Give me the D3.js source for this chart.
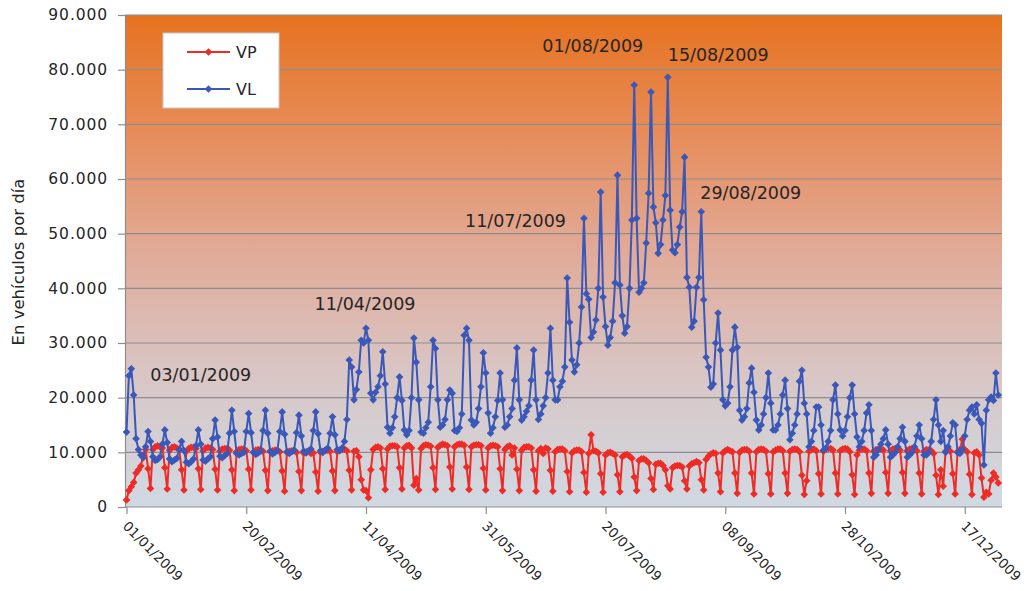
<!DOCTYPE html>
<html>
<head>
<meta charset="utf-8">
<script src="https://cdnjs.cloudflare.com/ajax/libs/d3/7.8.5/d3.min.js"></script>
<style>
  body { margin: 0; background: #fff; }
  svg text { font-family: "DejaVu Sans", sans-serif; fill: #262626; }
</style>
</head>
<body>
<svg id="canvas" width="1028" height="591"></svg>
<script>
// daily values for 2009, one row per week (Thu .. Wed), starting Thu 01/01/2009
const firstDay = new Date(2009, 0, 1);
const seriesNames = ["VP", "VL"];

const vp = [
  1300, 3000, 3700, 4500, 6200, 6800, 7500,
  9500, 10500, 7000, 3400, 10500, 11000, 11200,
  11000, 10800, 7200, 3300, 10400, 10900, 11000,
  10800, 10600, 6800, 3100, 10200, 10700, 10900,
  10900, 10700, 7000, 3200, 10300, 10800, 10900,
  10800, 10500, 6900, 3100, 10200, 10600, 10700,
  10700, 10400, 6800, 3000, 10100, 10500, 10600,
  10600, 10300, 6900, 3100, 10000, 10400, 10500,
  10500, 10200, 6700, 3000, 10100, 10300, 10400,
  10400, 10100, 6600, 2900, 10000, 10200, 10300,
  10300, 10000, 6500, 3000, 9900, 10100, 10200,
  9800, 9900, 6400, 2900, 10000, 10200, 10300,
  10400, 10200, 6600, 3000, 10100, 10400, 10500,
  10600, 10300, 6700, 3100, 10200, 10300, 9200,
  5000, 3100, 3000, 1700, 6800, 10500, 10900,
  11000, 10800, 7000, 3200, 10600, 11100, 11200,
  11200, 11000, 7200, 3300, 10800, 11200, 11300,
  10800, 4000, 5200, 3100, 10700, 11200, 11400,
  11300, 11100, 7200, 3200, 10900, 11300, 11500,
  11400, 11200, 7300, 3300, 11000, 11400, 11500,
  11500, 11300, 7300, 3200, 11000, 11300, 11400,
  11400, 11200, 7100, 3100, 10800, 11200, 11300,
  11200, 11000, 7000, 3000, 10500, 11000, 11200,
  9500, 10800, 6900, 3000, 10400, 10900, 11000,
  11000, 10800, 6800, 2900, 10300, 10700, 9800,
  10800, 10600, 6700, 2900, 10100, 10500, 10600,
  10600, 10300, 6500, 2800, 9900, 10300, 10400,
  10400, 10100, 6300, 2700, 9800, 13200, 10300,
  10200, 9900, 6100, 2700, 9500, 9900, 10000,
  9800, 9500, 5900, 2800, 9200, 9500, 9600,
  9300, 8900, 5500, 3000, 8500, 8800, 8800,
  8500, 8100, 5200, 3200, 7800, 8000, 8000,
  7600, 6800, 3900, 3300, 7200, 7500, 7600,
  7600, 7300, 4800, 3300, 7500, 7900, 8100,
  8300, 8100, 5000, 3100, 8700, 9300, 9700,
  9900, 9800, 6200, 2800, 9900, 10300, 10500,
  10300, 10100, 6200, 2500, 10000, 10400, 10500,
  10500, 10200, 6200, 2400, 10100, 10500, 10600,
  10500, 10200, 6100, 2400, 10100, 10400, 10600,
  10600, 10300, 6200, 2500, 10200, 10500, 10600,
  10500, 10100, 5800, 2300, 4800, 10200, 10500,
  10600, 10300, 6100, 2400, 10200, 10600, 10700,
  10700, 10400, 6200, 2400, 10300, 10600, 10700,
  10600, 10100, 5900, 2300, 9500, 10400, 10600,
  10600, 10300, 6200, 2500, 10200, 10500, 10600,
  10600, 10400, 6300, 2500, 10300, 10600, 10700,
  10700, 10400, 6300, 2500, 10300, 10600, 10700,
  10700, 10300, 6200, 2400, 10200, 10500, 10400,
  10300, 9800, 5800, 2300, 6800, 3800, 10200,
  10500, 10200, 6100, 2400, 10100, 10500, 12400,
  10500, 10100, 6000, 2300, 9900, 10100, 9500,
  5300, 1800, 2700, 2400, 4900, 6200, 5500,
  4400
];

const vl = [
  13700, 24000, 25300, 20500, 12500, 10500, 9500,
  9000, 11000, 13800, 12000, 9200, 8500, 8700,
  9200, 11500, 14100, 11800, 8800, 8300, 8600,
  8900, 10500, 12000, 10300, 8200, 7900, 8300,
  8800, 11200, 14100, 11500, 8600, 8400, 8800,
  9200, 12500, 15900, 12800, 9300, 9000, 9400,
  9800, 13500, 17700, 13800, 9800, 9500, 9800,
  10000, 13800, 17100, 13600, 10000, 9600, 9900,
  10200, 14000, 17700, 13500, 10200, 9700, 10000,
  10300, 13800, 17400, 13300, 10100, 9800, 10100,
  10400, 13600, 16800, 13000, 10200, 9900, 10300,
  10600, 14000, 17400, 13400, 10300, 10000, 10400,
  10800, 13500, 16500, 13200, 10500, 10300, 10800,
  12000, 16000, 26900, 25600, 19600, 21500, 24700,
  30500, 30000, 32700, 30500, 20800, 19600, 21000,
  22000, 24000, 28400, 22500, 14600, 13500, 14500,
  16500, 20000, 23800, 19500, 14100, 13200, 14000,
  20000, 30900, 26500, 19600, 13700, 13500, 14500,
  15500, 22000, 30500, 29000, 19600, 14600, 15000,
  16000, 19600, 21400, 20800, 14000, 13800, 14500,
  17000, 31400, 32700, 30500, 15900, 15000, 15500,
  18000, 22000, 28200, 24500, 17200, 13500, 14500,
  16500, 19500, 24500, 19600, 14600, 15000, 16500,
  18000, 23200, 29100, 19600, 15900, 16500, 17500,
  18500, 23200, 28700, 19600, 16000, 17000, 18500,
  20000, 24500, 32700, 23200, 19600, 19600, 22000,
  23000, 25600, 41900, 33800, 26900, 24700, 26000,
  30000, 36600, 52800, 39000, 38000, 31000, 32000,
  34200, 40000, 57600, 38400, 33000, 29600, 31000,
  34000, 41000, 60700, 40600, 35000, 31800, 33000,
  40000, 52500, 77200, 52800, 39300, 40000, 41000,
  48300, 57400, 75900, 54900, 52000, 46400, 48000,
  52500, 57000, 78600, 54300, 47000, 46500, 48000,
  51200, 54000, 64000, 42000, 40200, 32900, 34000,
  40200, 42000, 54000, 37900, 27400, 25600, 21900,
  22500, 30000, 35500, 28700, 19600, 18500, 19000,
  22000, 28700, 32900, 29200, 17700, 15900, 16500,
  18000, 22700, 25400, 21000, 15900, 14100, 15000,
  17000, 20000, 24500, 19000, 14100, 14100, 15000,
  17000, 20500, 23200, 18000, 12300, 13500, 15000,
  17000, 23000, 25000, 19000, 17000, 11000, 12000,
  14000, 18300, 18300, 15000, 10400, 10800, 12000,
  14000, 19600, 22300, 17000, 14100, 13000, 14000,
  16500, 20000, 22300, 17000, 12800, 11000, 12000,
  14000, 17200, 18700, 14000, 9100, 9500, 10500,
  11500, 12500, 14100, 11500, 9100, 9500, 10000,
  11000, 12500, 14600, 12000, 9100, 9500, 10000,
  11000, 13000, 15000, 12500, 9500, 9500, 10000,
  12000, 16000, 19600, 15000, 12000, 14000, 10000,
  11000, 13000, 15400, 15000, 10000, 9800, 10500,
  13000, 16000, 17700, 18300, 17000, 18700, 16000,
  15300, 7700, 17700, 19600, 20100, 19500, 24500,
  20500
];

const yTickValues = [0, 10000, 20000, 30000, 40000, 50000, 60000, 70000, 80000, 90000];
const xTickLabels = ["01/01/2009", "20/02/2009", "11/04/2009", "31/05/2009",
                     "20/07/2009", "08/09/2009", "28/10/2009", "17/12/2009"];
const annotatedDays = ["03/01/2009", "11/04/2009", "11/07/2009", "01/08/2009", "15/08/2009", "29/08/2009"];

const colors = { VP: "#ee2b25", VL: "#3a58b8" };

const parseDay = d3.timeParse("%d/%m/%Y");
const fmtDay = d3.timeFormat("%d/%m/%Y");
const esLocale = d3.formatLocale({ decimal: ",", thousands: ".", grouping: [3], currency: ["", "€"] });
const fmtNum = esLocale.format(",");

const plot = { left: 125, top: 15, right: 1002, bottom: 507 };

const svg = d3.select("#canvas");

const x = d3.scaleTime()
  .domain([firstDay, d3.timeDay.offset(firstDay, 365)])
  .range([126.5, 126.5 + 365 * 2.395]);

const y = d3.scaleLinear()
  .domain([0, 90000])
  .range([plot.bottom, plot.top]);

const days = vl.map((v, i) => d3.timeDay.offset(firstDay, i));
const data = {
  VP: vp.map((v, i) => ({ date: days[i], value: v })),
  VL: vl.map((v, i) => ({ date: days[i], value: v }))
};

// background gradient
const defs = svg.append("defs");
const grad = defs.append("linearGradient")
  .attr("id", "bg").attr("x1", 0).attr("y1", 0).attr("x2", 0).attr("y2", 1);
[["0%", "#e6721f"], ["22%", "#e78a55"], ["48%", "#e1aa98"], ["72%", "#d9c5c3"], ["100%", "#d0d9e3"]]
  .forEach(s => grad.append("stop").attr("offset", s[0]).attr("stop-color", s[1]));

svg.append("rect")
  .attr("x", plot.left).attr("y", plot.top)
  .attr("width", plot.right - plot.left).attr("height", plot.bottom - plot.top)
  .attr("fill", "url(#bg)");

// grid lines
svg.append("g").selectAll("line")
  .data(yTickValues.filter(d => d > 0))
  .enter().append("line")
  .attr("x1", plot.left).attr("x2", plot.right)
  .attr("y1", d => y(d)).attr("y2", d => y(d))
  .attr("stroke", "#8d8d8d").attr("stroke-width", 1.2);

// y axis
const yAxis = d3.axisLeft(y).tickValues(yTickValues).tickFormat(fmtNum).tickSize(7).tickPadding(10);
const gy = svg.append("g").attr("transform", `translate(${plot.left},0)`).call(yAxis);
gy.select(".domain").attr("stroke", "#8d8d8d").attr("stroke-width", 1.2);
gy.selectAll(".tick line").attr("stroke", "#8d8d8d").attr("stroke-width", 1.2);
gy.selectAll(".tick text")
  .style("font-size", "15.5px").style("letter-spacing", "0.9px").attr("fill", "#333");

// x axis
const xTicks = xTickLabels.map(parseDay);
const xAxis = d3.axisBottom(x).tickValues(xTicks).tickFormat(fmtDay).tickSize(7).tickSizeOuter(0);
const gx = svg.append("g").attr("transform", `translate(0,${plot.bottom})`).call(xAxis);
gx.select(".domain").attr("stroke", "#8d8d8d").attr("stroke-width", 1.2)
  .attr("d", `M${plot.left},0H${plot.right}`);
gx.selectAll(".tick line").attr("stroke", "#8d8d8d").attr("stroke-width", 1.2);
gx.selectAll(".tick text")
  .attr("text-anchor", "start")
  .attr("x", 0).attr("y", 0).attr("dy", 0)
  .attr("transform", "translate(-5,20) rotate(45)")
  .style("font-size", "13.5px").attr("fill", "#262626");

// y title
svg.append("text")
  .attr("transform", "translate(24,262) rotate(-90)")
  .attr("text-anchor", "middle")
  .style("font-size", "16.5px")
  .text("En vehículos por día");

// series
const line = d3.line().x(d => x(d.date)).y(d => y(d.value));
const diamond = "M0,-3.8L3.8,0L0,3.8L-3.8,0Z";

seriesNames.forEach(name => {
  const g = svg.append("g");
  g.append("path")
    .datum(data[name])
    .attr("d", line)
    .attr("fill", "none")
    .attr("stroke", colors[name])
    .attr("stroke-width", 2)
    .attr("stroke-linejoin", "round");
  g.selectAll("path.marker")
    .data(data[name])
    .enter().append("path")
    .attr("class", "marker")
    .attr("d", diamond)
    .attr("transform", d => `translate(${x(d.date)},${y(d.value)})`)
    .attr("fill", colors[name]);
});

// annotations next to the peaks
const annotLayout = [
  { dx: 19, dy: 12, anchor: "start" },
  { dx: -1, dy: -18, anchor: "middle" },
  { dx: -18, dy: 9, anchor: "end" },
  { dx: 9, dy: -33, anchor: "end" },
  { dx: 0, dy: -16, anchor: "start" },
  { dx: -1, dy: -13, anchor: "start" }
];
annotatedDays.forEach((label, i) => {
  const date = parseDay(label);
  const idx = d3.timeDay.count(firstDay, date);
  const l = annotLayout[i];
  svg.append("text")
    .attr("x", x(date) + l.dx)
    .attr("y", y(vl[idx]) + l.dy)
    .attr("text-anchor", l.anchor)
    .style("font-size", "17.5px")
    .attr("fill", "#1a1a1a")
    .text(label);
});

// legend
const legend = svg.append("g").attr("transform", "translate(163,33)");
legend.append("rect")
  .attr("width", 116).attr("height", 75)
  .attr("fill", "#fff").attr("stroke", "#c8c8c8");
seriesNames.forEach((name, i) => {
  const ly = 19 + i * 37;
  legend.append("line")
    .attr("x1", 24).attr("x2", 67).attr("y1", ly).attr("y2", ly)
    .attr("stroke", colors[name]).attr("stroke-width", 2);
  legend.append("path")
    .attr("d", diamond)
    .attr("transform", `translate(45.5,${ly})`)
    .attr("fill", colors[name]);
  legend.append("text")
    .attr("x", 73).attr("y", ly + 6)
    .style("font-size", "16px")
    .text(name);
});
</script>
</body>
</html>
